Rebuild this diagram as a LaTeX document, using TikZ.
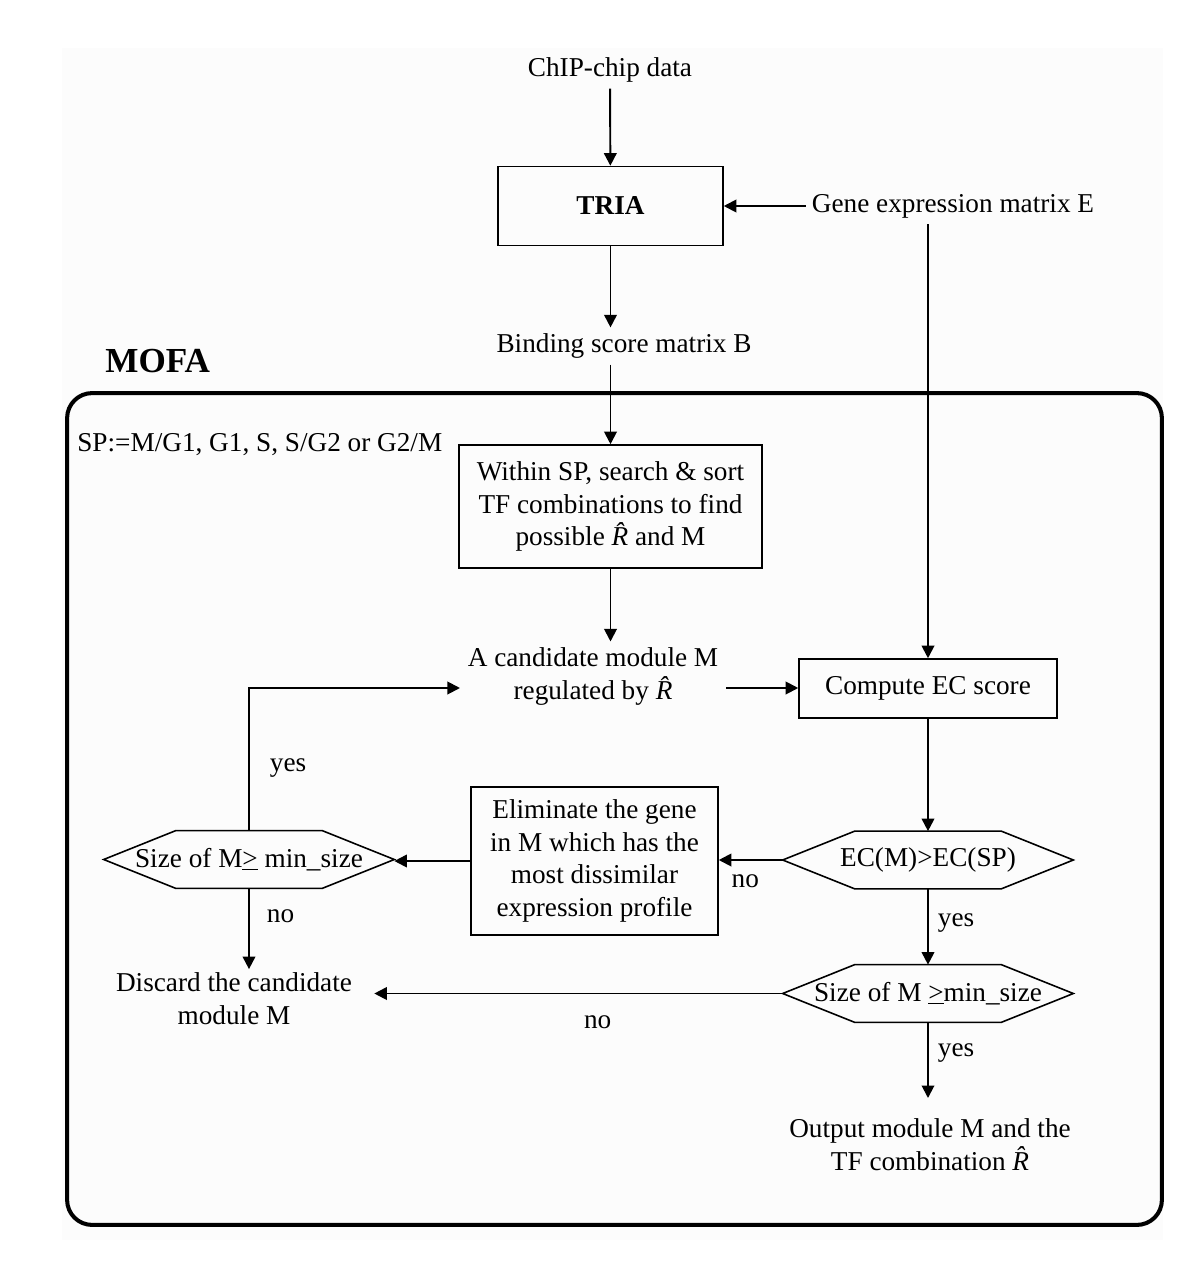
\documentclass[tikz,border=0pt]{standalone}
\usepackage{fontspec}
\setmainfont{Liberation Serif}
\usetikzlibrary{arrows.meta,calc}
\newcommand{\Rhat}{{\itshape R^^^^0302}}
\newcommand{\hexdraw}[1]{\draw[hexline] (#1.west) -- ([xshift=1.44cm]#1.north west) -- ([xshift=-1.44cm]#1.north east) -- (#1.east) -- ([xshift=-1.44cm]#1.south east) -- ([xshift=1.44cm]#1.south west) -- cycle;}
\begin{document}
\begin{tikzpicture}[x=0.02cm,y=-0.02cm,
  font=\fontsize{15.5}{18.7}\selectfont,
  arr/.style={line width=1.1pt,-{Triangle[length=0.25cm,width=0.25cm]}},
  box/.style={draw,line width=0.9pt,align=center,inner sep=0pt},
  txt/.style={align=center},
  hexnode/.style={minimum width=5.8cm,minimum height=1.14cm,inner sep=0pt},
  hexline/.style={line width=0.9pt},
  lbl/.style={inner sep=0.18cm}]
\useasboundingbox (0,0) rectangle (1200,1268);
\fill[black!1] (62,48) rectangle (1163,1240);

% nodes
\node (chip) at (610,70) {ChIP-chip data};
\node[box,minimum width=4.5cm,minimum height=1.58cm] (tria) at (610.5,206) {\bfseries TRIA};
\node (gene) at (953,206) {Gene expression matrix E};
\node (bind) at (624,346) {Binding score matrix B};
\node[anchor=west,inner sep=0pt] (mofa) at (105,361) {\fontsize{20}{24}\selectfont\bfseries MOFA};
\node[draw,line width=2.3pt,rounded corners=0.5cm,minimum width=21.9cm,minimum height=16.64cm] (frame) at (614.5,809) {};
\node[anchor=west,inner sep=0pt] (sp) at (77,445) {SP:=M/G1, G1, S, S/G2 or G2/M};
\node[box,minimum width=6.06cm,minimum height=2.46cm] (within) at (610.5,506.5) {Within SP, search \& sort\\TF combinations to find\\possible \Rhat{} and M};
\node[txt,inner xsep=0.15cm] (cand) at (593,676.5) {A candidate module M\\regulated by \Rhat};
\node[box,minimum width=5.16cm,minimum height=1.18cm] (ec) at (928,688.5) {Compute EC score};
\node[hexnode] (hex1) at (928,860) {EC(M)>EC(SP)};
\node[box,minimum width=4.94cm,minimum height=2.96cm] (elim) at (594.5,861) {Eliminate the gene\\in M which has the\\most dissimilar\\expression profile};
\node[hexnode] (hexL) at (249,859.5) {Size of M\underline{>} min\_size};
\node[txt,inner xsep=0.44cm,inner ysep=2pt] (disc) at (234,999) {Discard the candidate\\module M};
\node[hexnode] (hex2) at (928,993.5) {Size of M \underline{>}min\_size};
\node[txt,anchor=north,inner ysep=0.4cm] (out) at (930,1098) {Output module M and the\\TF combination \Rhat};

\hexdraw{hex1}
\hexdraw{hexL}
\hexdraw{hex2}

\coordinate (candL) at ([yshift=-0.23cm]cand.west);
\coordinate (candR) at ([yshift=-0.23cm]cand.east);

% connectors
\draw[arr] (chip) -- (tria);
\draw[arr] (gene.west) -- (tria.east);
\draw[arr] (tria.south) -- (tria.south |- bind.north);
\draw[arr] (bind.south -| within.north) -- (within.north);
\draw[arr] (gene.south -| ec.north) -- (ec.north);
\draw[arr] (within.south) -- (within.south |- cand.north);
\draw[arr] (candR) -- (candR -| ec.west);
\draw[arr] (hexL.north) |- node[lbl,pos=0.22,right=0.22cm]{yes} (candL);
\draw[arr] (ec.south) -- (hex1.north);
\draw[arr] (hex1.west) -- node[lbl,pos=0.585,below=0.1cm]{no} (elim.east |- hex1.west);
\draw[arr] (elim.west) -- (elim.west -| hexL.east);
\draw[arr] (hexL.south) -- node[lbl,pos=0.35,right=0.16cm]{no} (hexL.south |- disc.north);
\draw[arr] (hex1.south) -- node[lbl,pos=0.45,right]{yes} (hex2.north);
\draw[arr] (hex2.west) -- node[lbl,pos=0.453,below=0.24cm]{no} (hex2.west -| disc.east);
\draw[arr] (hex2.south) -- node[lbl,pos=0.41,right]{yes} (hex2.south |- out.north);
\end{tikzpicture}
\end{document}
